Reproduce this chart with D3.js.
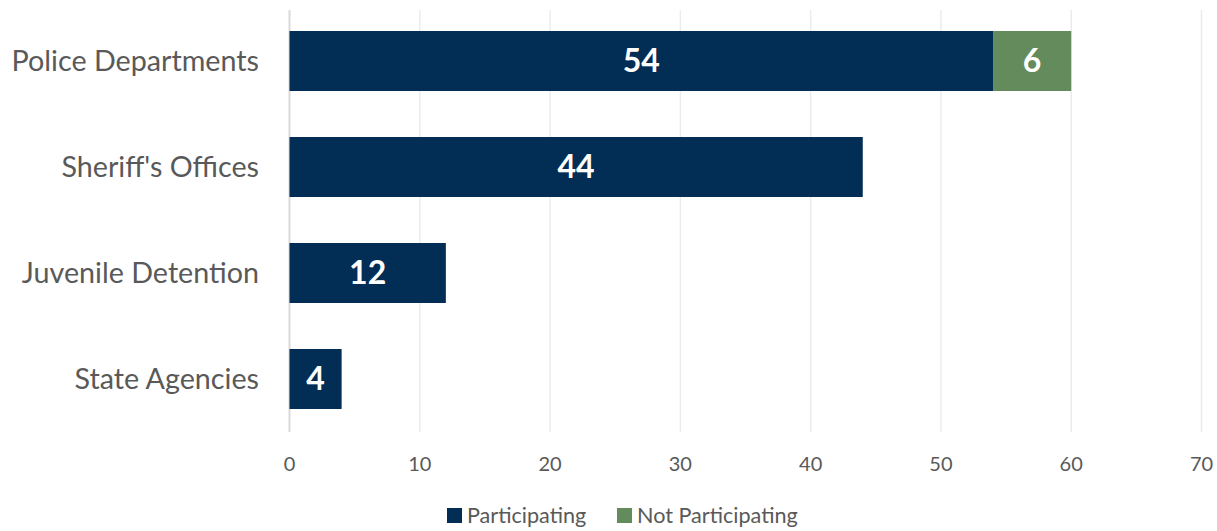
<!DOCTYPE html>
<html><head><meta charset="utf-8">
<script src="https://cdn.jsdelivr.net/npm/d3@7"></script>
<style>body{margin:0;background:#fff}svg{display:block}</style>
</head><body><svg id="c" width="1217" height="531"></svg>
<script>
const categories = ["Police Departments","Sheriff's Offices","Juvenile Detention","State Agencies"];
const participating = [54,44,12,4];
const notParticipating = [6,0,0,0];
const seriesNames = ["Participating","Not Participating"];
const xTicks = [0,10,20,30,40,50,60,70];
const colors = ["#022d54","#638b5b"];

const svg = d3.select("#c");
const font = "Lato, 'Open Sans', sans-serif";
const x = d3.scaleLinear().domain([0,70]).range([289.5,1201.5]);
const y = d3.scaleBand().domain(categories).range([8,432]).paddingInner(0.434).paddingOuter(0.217);

// gridlines
svg.append("g").selectAll("line").data(xTicks).join("line")
  .attr("x1",d=>x(d)).attr("x2",d=>x(d)).attr("y1",10).attr("y2",432)
  .attr("stroke",d=>d===0?"#d9d9d9":"#ececec").attr("stroke-width",d=>d===0?2:1.5);

// tick labels
svg.append("g").selectAll("text").data(xTicks).join("text")
  .attr("x",d=>x(d)).attr("y",471).attr("text-anchor","middle")
  .attr("font-family",font).attr("font-size",20).attr("fill","#595959").text(d=>d);

const data = categories.map((c,i)=>({cat:c, vals:[participating[i], notParticipating[i]]}));
const stacked = d3.stack().keys([0,1]).value((d,k)=>d.vals[k])(data);

stacked.forEach((s,k)=>{
  const g = svg.append("g");
  g.selectAll("rect").data(s.filter(d=>d[1]-d[0]>0)).join("rect")
    .attr("x",d=>x(d[0])).attr("width",d=>x(d[1])-x(d[0]))
    .attr("y",d=>y(d.data.cat)).attr("height",y.bandwidth()).attr("fill",colors[k]);
  g.selectAll("text").data(s.filter(d=>d[1]-d[0]>0)).join("text")
    .attr("x",d=>(x(d[0])+x(d[1]))/2).attr("y",d=>y(d.data.cat)+y.bandwidth()/2+11)
    .attr("text-anchor","middle").attr("font-family",font).attr("font-weight","bold")
    .attr("font-size",32).attr("fill","#fff").text(d=>d[1]-d[0]);
});

// category labels
svg.append("g").selectAll("text").data(categories).join("text")
  .attr("x",259).attr("y",d=>y(d)+y.bandwidth()/2+10).attr("text-anchor","end")
  .attr("font-family",font).attr("font-size",28.7).attr("fill","#595959").text(d=>d);

// legend
const legX = [447,617];
seriesNames.forEach((n,i)=>{
  svg.append("rect").attr("x",legX[i]).attr("y",508).attr("width",15).attr("height",15).attr("fill",colors[i]);
  svg.append("text").attr("x",legX[i]+20).attr("y",523).attr("font-family",font)
    .attr("font-size",21.6).attr("fill","#595959").text(n);
});
</script></body></html>
